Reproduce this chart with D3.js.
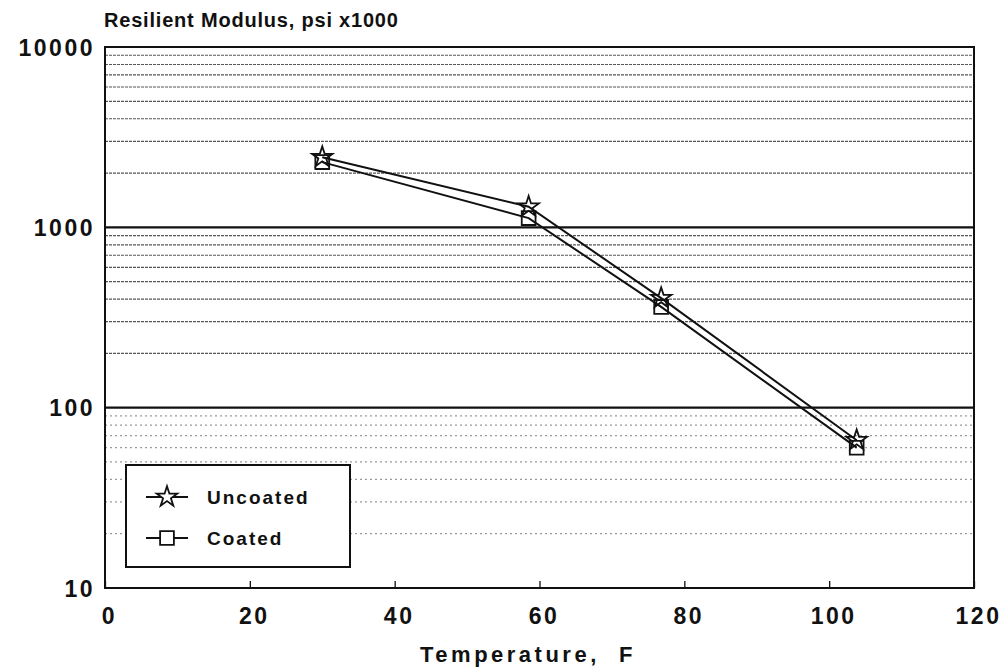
<!DOCTYPE html>
<html><head><meta charset="utf-8">
<script src="https://cdn.jsdelivr.net/npm/d3@7"></script>
<style>body{margin:0;background:#fff}svg{display:block}text{font-family:"Liberation Sans",Arial,sans-serif;font-weight:bold;fill:#111}</style>
</head><body><svg id="c" width="1004" height="667"></svg>
<script>
const temps = [30, 58.5, 76.8, 103.8];
const uncoated = [2450, 1300, 405, 66];
const coated = [2300, 1125, 362, 60];
const seriesNames = ["Uncoated", "Coated"];
const xTicks = [0, 20, 40, 60, 80, 100, 120];
const yTicks = [10, 100, 1000, 10000];

const svg = d3.select("#c");
const L = 105, R = 974, T = 47, B = 588;
const x = d3.scaleLinear().domain([0, 120]).range([L, R]);
const y = d3.scaleLog().domain([10, 10000]).range([B, T]);

// minor grid
const minors = [];
for (let d = 10; d < 10000; d *= 10) for (let k = 2; k <= 9; k++) minors.push(d * k);
svg.append("g").selectAll("line").data(minors).join("line")
  .attr("x1", L).attr("x2", R).attr("y1", d => y(d)).attr("y2", d => y(d))
  .attr("stroke", d => d < 100 ? "#9a9a9a" : "#555").attr("stroke-width", 1.2)
  .attr("stroke-dasharray", d => d < 100 ? "2,3" : "3,1");
// major grid
svg.append("g").selectAll("line").data([100, 1000]).join("line")
  .attr("x1", L).attr("x2", R).attr("y1", d => y(d)).attr("y2", d => y(d))
  .attr("stroke", "#111").attr("stroke-width", 2.2);

// frame
svg.append("rect").attr("x", L).attr("y", T).attr("width", R - L).attr("height", B - T)
  .attr("fill", "none").attr("stroke", "#111").attr("stroke-width", 2);

// axes
const xa = svg.append("g").attr("transform", `translate(0,${B})`)
  .call(d3.axisBottom(x).tickValues(xTicks).tickSize(-7).tickPadding(20).tickFormat(d3.format("d")));
xa.select(".domain").remove();
xa.selectAll("line").attr("stroke", "#111").attr("stroke-width", 1.3);
xa.selectAll("text").style("font-size", "23px").style("letter-spacing", "2.5px").attr("fill", "#111").attr("dx", 4);

const ya = svg.append("g").attr("transform", `translate(${L},0)`)
  .call(d3.axisLeft(y).tickValues(yTicks).tickSize(0).tickPadding(10).tickFormat(d3.format("d")));
ya.select(".domain").remove();
ya.selectAll("text").style("font-size", "23px").style("letter-spacing", "2.5px").attr("fill", "#111").attr("dy", "0.35em");

// titles
svg.append("text").attr("x", 104).attr("y", 27).style("font-size", "20px").style("letter-spacing", "0.8px").text("Resilient Modulus, psi x1000");
svg.append("text").attr("x", 528).attr("y", 662).attr("text-anchor", "middle").style("font-size", "22px")
  .style("letter-spacing", "3.5px").attr("xml:space", "preserve").text("Temperature,  F");

const line = d3.line().x(d => x(d[0])).y(d => y(d[1]));
const star = d3.symbol().type(d3.symbolStar).size(130);
const sq = d3.symbol().type(d3.symbolSquare).size(190);

const data = [temps.map((t, i) => [t, uncoated[i]]), temps.map((t, i) => [t, coated[i]])];
const syms = [star, sq];
data.forEach((s, i) => {
  svg.append("path").datum(s).attr("d", line).attr("fill", "none").attr("stroke", "#111").attr("stroke-width", 2);
});
data.forEach((s, i) => {
  svg.append("g").selectAll("path").data(s).join("path")
    .attr("transform", d => `translate(${x(d[0])},${y(d[1])})`)
    .attr("d", syms[i]).attr("fill", "none").attr("stroke", "#111").attr("stroke-width", 1.8);
});

// legend
const lg = svg.append("g");
lg.append("rect").attr("x", 126).attr("y", 465).attr("width", 224).attr("height", 102)
  .attr("fill", "#fff").attr("stroke", "#111").attr("stroke-width", 2);
seriesNames.forEach((n, i) => {
  const yy = 497 + i * 41;
  lg.append("line").attr("x1", 146).attr("x2", 188).attr("y1", yy).attr("y2", yy).attr("stroke", "#111").attr("stroke-width", 2);
  lg.append("path").attr("transform", `translate(167,${yy})`).attr("d", syms[i]).attr("fill", "#fff").attr("stroke", "#111").attr("stroke-width", 1.8);
  lg.append("text").attr("x", 207).attr("y", yy + 7).style("font-size", "19px").style("letter-spacing", "2px").text(n);
});
</script></body></html>
